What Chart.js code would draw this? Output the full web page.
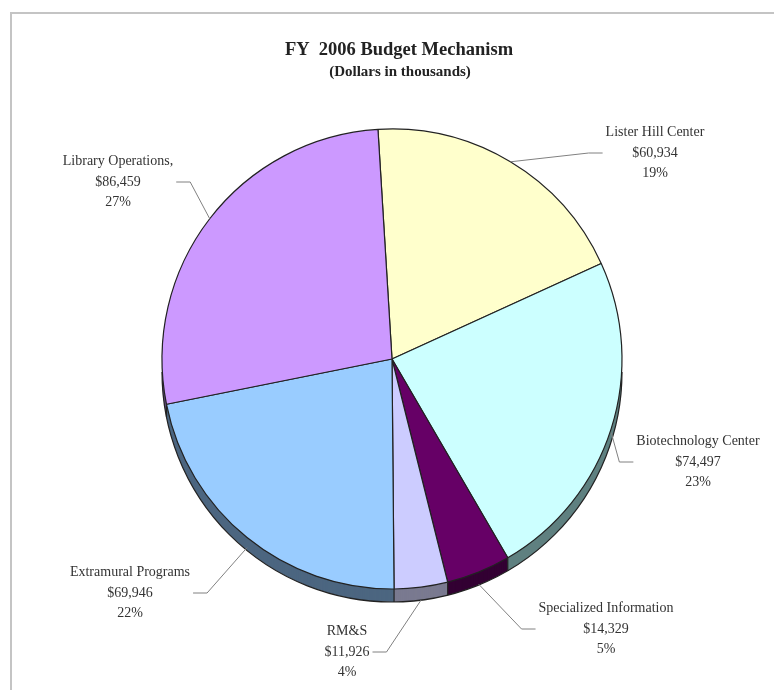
<!DOCTYPE html>
<html>
<head>
<meta charset="utf-8">
<title>FY 2006 Budget Mechanism</title>
<script src="https://cdn.jsdelivr.net/npm/chart.js@4.4.1/dist/chart.umd.min.js"></script>
<style>
  html, body { margin: 0; padding: 0; background: #fff; }
  #wrap { position: relative; width: 774px; height: 690px; }
</style>
</head>
<body>
<div id="wrap"><canvas id="budgetChart"></canvas></div>
<script>
// Budget categories, clockwise from the top
const categories = ['Lister Hill Center', 'Biotechnology Center', 'Specialized Information', 'RM&S', 'Extramural Programs', 'Library Operations'];
// Dollars in thousands
const amounts = [60934, 74497, 14329, 11926, 69946, 86459];

const sliceColors = ['#ffffcc', '#ccffff', '#660066', '#ccccff', '#99ccff', '#cc99ff'];
const sideColors = ['#808066', '#5f8080', '#330033', '#7a7a90', '#4c6680', '#664c80'];
// centre of each label's middle line
const labelSpots = [[655, 153], [698, 462], [606, 629], [347, 652], [130, 593], [118, 182]];
const nameSuffix = ['', '', '', '', '', ','];

const DEPTH = 13;
const total = amounts.reduce((a, b) => a + b, 0);
const serif = '"Liberation Serif", "Times New Roman", serif';

// Grey frame + title
const frameAndTitle = {
    id: 'frameAndTitle',
    beforeDraw(chart) {
        const ctx = chart.ctx;
        ctx.save();
        ctx.strokeStyle = '#c4c4c4';
        ctx.lineWidth = 2;
        ctx.beginPath();
        ctx.moveTo(11, chart.height);
        ctx.lineTo(11, 13);
        ctx.lineTo(chart.width, 13);
        ctx.stroke();
        ctx.restore();
    },
    afterDraw(chart) {
        const ctx = chart.ctx;
        ctx.save();
        ctx.fillStyle = '#222';
        ctx.textAlign = 'center';
        ctx.textBaseline = 'middle';
        ctx.font = 'bold 18.5px ' + serif;
        ctx.fillText('FY  2006 Budget Mechanism', 399, 50);
        ctx.font = 'bold 15px ' + serif;
        ctx.fillText('(Dollars in thousands)', 400, 72);
        ctx.restore();
    }
};

// Darker rim under the pie to fake the 3D depth
const pieSide = {
    id: 'pieSide',
    beforeDatasetsDraw(chart) {
        const ctx = chart.ctx;
        const arcs = chart.getDatasetMeta(0).data;
        ctx.save();
        for (let d = DEPTH; d >= 1; d--) {
            arcs.forEach((arc, i) => {
                const p = arc.getProps(['x', 'y', 'startAngle', 'endAngle', 'outerRadius']);
                ctx.beginPath();
                ctx.moveTo(p.x, p.y + d);
                ctx.arc(p.x, p.y + d, p.outerRadius, p.startAngle, p.endAngle);
                ctx.closePath();
                ctx.fillStyle = sideColors[i];
                ctx.fill();
            });
        }
        // outline of the rim
        const p0 = arcs[0].getProps(['x', 'y', 'outerRadius']);
        ctx.strokeStyle = '#222';
        ctx.lineWidth = 1.2;
        ctx.beginPath();
        ctx.arc(p0.x, p0.y + DEPTH, p0.outerRadius, 0, Math.PI);
        ctx.stroke();
        arcs.forEach(arc => {
            const p = arc.getProps(['x', 'y', 'startAngle', 'outerRadius']);
            if (Math.sin(p.startAngle) > 0.05) {
                const ex = p.x + Math.cos(p.startAngle) * p.outerRadius;
                const ey = p.y + Math.sin(p.startAngle) * p.outerRadius;
                ctx.beginPath();
                ctx.moveTo(ex, ey);
                ctx.lineTo(ex, ey + DEPTH);
                ctx.stroke();
            }
        });
        ctx.restore();
    }
};

// Labels outside the pie with leader lines
const calloutLabels = {
    id: 'calloutLabels',
    afterDatasetsDraw(chart) {
        const ctx = chart.ctx;
        const arcs = chart.getDatasetMeta(0).data;
        ctx.save();
        ctx.font = '14px ' + serif;
        ctx.textAlign = 'center';
        ctx.textBaseline = 'middle';
        arcs.forEach((arc, i) => {
            const p = arc.getProps(['x', 'y', 'startAngle', 'endAngle', 'outerRadius']);
            const mid = (p.startAngle + p.endAngle) / 2;
            const s = Math.sin(mid);
            const ax = p.x + Math.cos(mid) * p.outerRadius;
            const ay = p.y + s * p.outerRadius + (s > 0 ? s * DEPTH : 0);

            const lines = [
                categories[i] + nameSuffix[i],
                '$' + amounts[i].toLocaleString('en-US'),
                Math.round(amounts[i] / total * 100) + '%'
            ];
            const [tx, ty] = labelSpots[i];
            const w = Math.max(...lines.map(t => ctx.measureText(t).width));
            const onRight = tx > ax;
            const endX = onRight ? tx - w / 2 - 3 : tx + w / 2 + 3;
            const elbowX = onRight ? endX - 14 : endX + 14;

            ctx.strokeStyle = '#808080';
            ctx.lineWidth = 1;
            ctx.beginPath();
            ctx.moveTo(ax, ay);
            ctx.lineTo(elbowX, ty);
            ctx.lineTo(endX, ty);
            ctx.stroke();

            ctx.fillStyle = '#333';
            lines.forEach((t, k) => ctx.fillText(t, tx, ty + (k - 1) * 20.5));
        });
        ctx.restore();
    }
};

new Chart(document.getElementById('budgetChart').getContext('2d'), {
    type: 'pie',
    data: {
        labels: categories,
        datasets: [{
            data: amounts,
            backgroundColor: sliceColors,
            borderColor: '#222',
            borderWidth: 1.2
        }]
    },
    options: {
        responsive: true,
        maintainAspectRatio: false,
        animation: false,
        events: [],
        rotation: -3.5,
        radius: 230,
        layout: {
            padding: { left: 162, right: 152, top: 129, bottom: 101 }
        },
        plugins: {
            legend: { display: false },
            tooltip: { enabled: false }
        }
    },
    plugins: [frameAndTitle, pieSide, calloutLabels]
});
</script>
</body>
</html>
